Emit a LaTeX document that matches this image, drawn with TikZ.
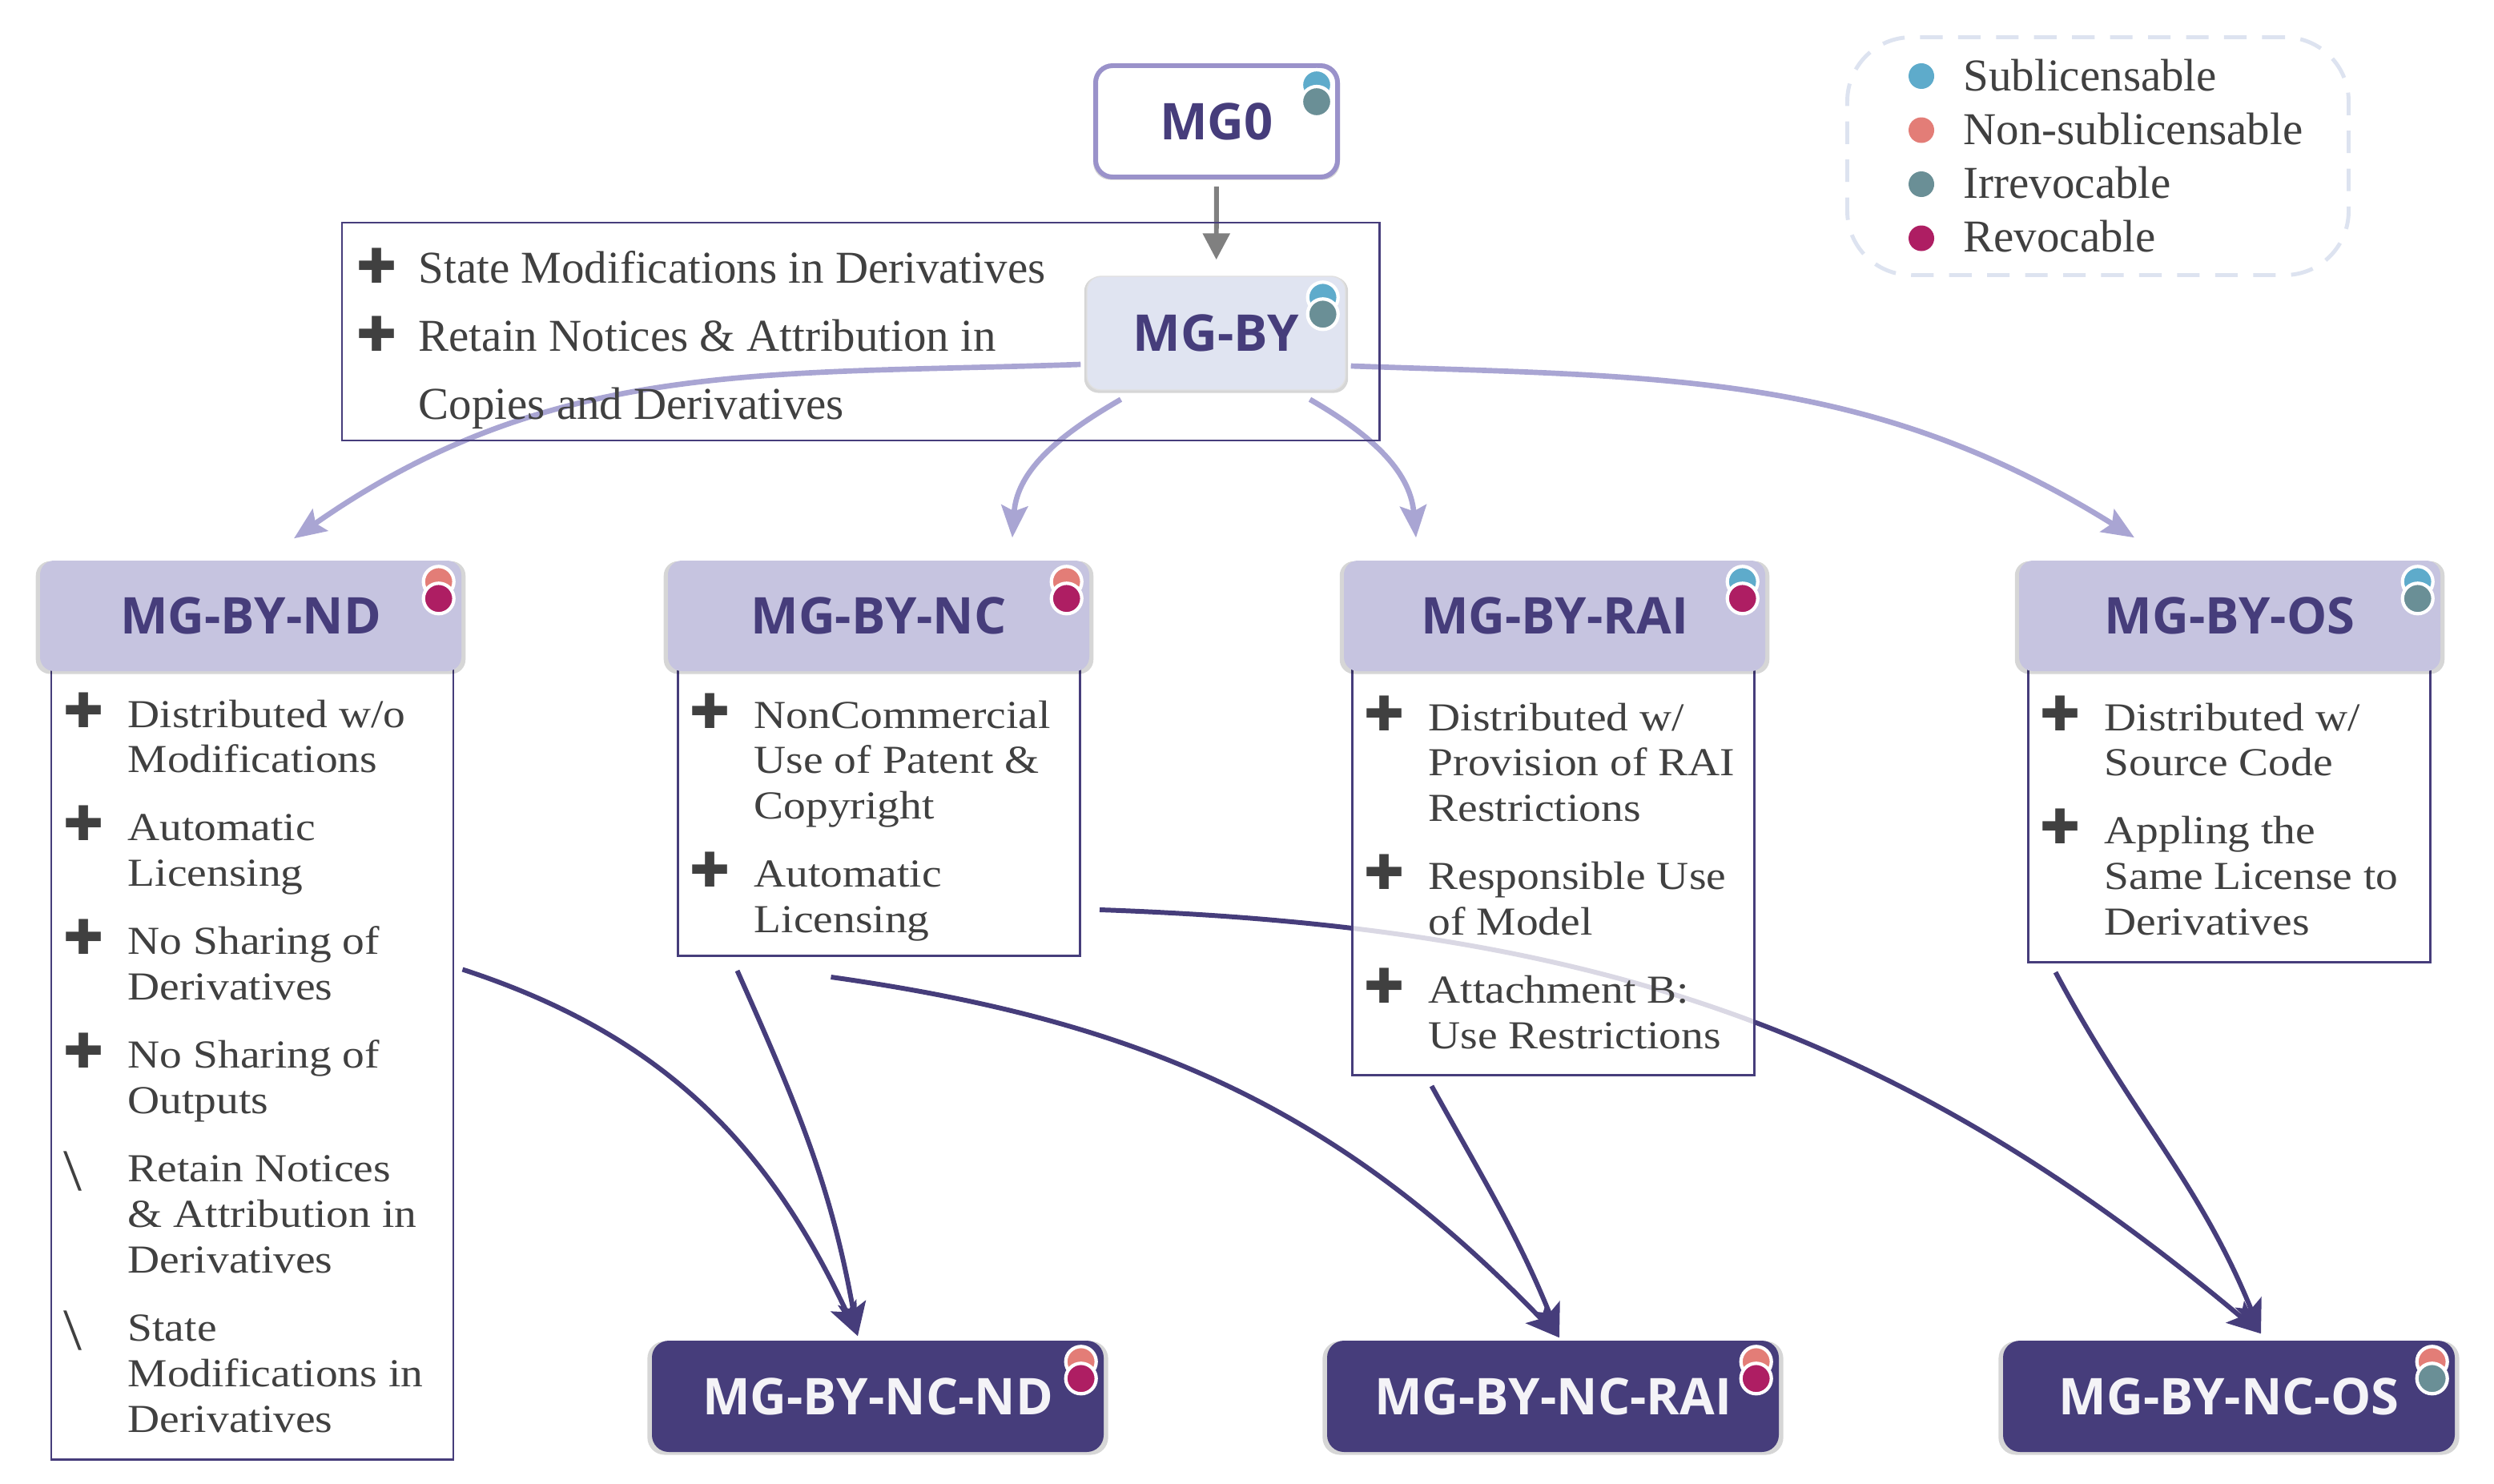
\documentclass[tikz,border=0pt]{standalone}
\usepackage{fontspec}
\setmainfont{Liberation Serif}
\newfontfamily\headfont{Open Sans}
\newfontfamily\itemfont[FakeStretch=1.12]{Liberation Serif}
\newfontfamily\symfont{DejaVu Sans}
\usepackage{xcolor}
\usepackage{tikz}
\usetikzlibrary{arrows.meta, positioning, shadows, backgrounds}

\definecolor{mgpurple}{HTML}{463D7B}
\definecolor{headfill}{HTML}{C6C4E0}
\definecolor{byfill}{HTML}{E0E4F1}
\definecolor{lavline}{HTML}{A9A5D3}
\definecolor{mgborder}{HTML}{9A92CA}
\definecolor{txtgray}{HTML}{404040}
\definecolor{arrgray}{HTML}{808080}
\definecolor{legdash}{HTML}{DDE3F0}
\definecolor{dotblue}{HTML}{5EABCB}
\definecolor{dotsalmon}{HTML}{E37D77}
\definecolor{dotteal}{HTML}{6A8F96}
\definecolor{dotcrimson}{HTML}{AE1E63}

\newcommand{\plusbul}[1][0.8cm]{\makebox[#1][l]{\smash{\symfont\fontsize{17}{17}\selectfont ✚}}}
\newcommand{\slashbul}{\makebox[0.8cm][l]{\smash{\fontsize{21}{21}\selectfont\raisebox{-3pt}{\textbackslash}}}}

\tikzset{
  shade/.style={general shadow={fill=black, opacity=0.16, shadow scale=1.02, shadow yshift=-0.6pt}},
  head/.style={rounded corners=5pt, fill=headfill, minimum width=5.26cm, minimum height=1.38cm, font=\headfont\bfseries\fontsize{18}{20}\selectfont, text=mgpurple, shade},
  leaf/.style={rounded corners=6pt, fill=mgpurple, minimum width=5.64cm, minimum height=1.39cm, font=\headfont\bfseries\fontsize{18}{20}\selectfont, text=white!94!mgpurple, shade},
  mgzero/.style={draw=mgborder, line width=1.7pt, fill=white, rounded corners=6pt, minimum width=3.02cm, minimum height=1.39cm, font=\headfont\bfseries\fontsize{18}{20}\selectfont, text=mgpurple, shade},
  mgby/.style={draw=black!12, fill=byfill, rounded corners=5pt, minimum width=3.23cm, minimum height=1.42cm, font=\headfont\bfseries\fontsize{18}{20}\selectfont, text=mgpurple, shade},
  body/.style={draw=mgpurple, line width=0.85pt, fill=white, fill opacity=0.8, minimum width=5.02cm, anchor=north},
  notebox/.style={draw=mgpurple, line width=0.85pt, minimum width=12.95cm, minimum height=2.72cm},
  itemtxt/.style={anchor=base west, inner sep=0, text=txtgray, font=\itemfont\fontsize{14.1}{16.2}\selectfont},
  notetxt/.style={anchor=base west, inner sep=0, text=txtgray, font=\fontsize{16.2}{24.2}\selectfont},
  dot/.style={circle, draw=white, line width=1.2pt, minimum size=0.38cm, inner sep=0},
  legdot/.style={circle, minimum size=0.32cm, inner sep=0},
  legbox/.style={draw=legdash, line width=1.4pt, dash pattern=on 8pt off 5.5pt, rounded corners=0.8cm, minimum width=6.26cm, minimum height=2.97cm},
  legtxt/.style={anchor=base west, inner sep=0, text=txtgray, font=\fontsize{16.2}{19}\selectfont},
  grayarr/.style={-{Triangle[length=3.3mm, width=3.3mm]}, line width=1.7pt, draw=arrgray},
  lavarr/.style={-{Stealth[length=4mm, width=3.3mm, inset=0.7mm]}, line width=1.9pt, draw=lavline},
  darr/.style={-{Stealth[length=4.2mm, width=3.5mm, inset=0.9mm]}, line width=1.7pt, draw=mgpurple}
}

\begin{document}
\begin{tikzpicture}[x=1cm, y=1cm]
    \useasboundingbox (0,0) rectangle (31.14,-18.53);

    \node[legbox] (legend) at (26.195,-1.95) {};
    \foreach \c/\t [count=\i from 0] in {dotblue/Sublicensable, dotsalmon/Non-sublicensable, dotteal/Irrevocable, dotcrimson/Revocable}{
      \node[legdot, fill=\c] (legdot-\i) at (23.99,{-0.95-0.675*\i}) {};
      \node[legtxt] (leg-\i) at (24.51,{-1.13-0.673*\i}) {\t};
    }

    \node[notebox] (note) at (10.745,-4.14) {};
    \node[notetxt] (notelist) at (4.45,-3.53) {\begin{tabular}[t]{@{}l@{}l@{}}
      \plusbul[0.77cm] & State Modifications in Derivatives\\
      \plusbul[0.77cm] & Retain Notices \& Attribution in\\
      & Copies and Derivatives
    \end{tabular}};

    \node[mgzero] (mg0) at (15.19,-1.515) {MG0};
    \node[mgby] (mgby) at (15.185,-4.16) {MG-BY};

    \node[body, minimum height=10.52cm] (ndbody) at (3.15,-7.69) {};
    \node[body, minimum height=4.23cm] (ncbody) at (10.975,-7.69) {};
    \node[body, minimum height=5.72cm] (raibody) at (19.395,-7.69) {};
    \node[body, minimum height=4.31cm] (osbody) at (27.835,-7.69) {};

    \node[head] (nd) at (3.13,-7.69) {MG-BY-ND};
    \node[head] (nc) at (10.97,-7.69) {MG-BY-NC};
    \node[head] (rai) at (19.41,-7.69) {MG-BY-RAI};
    \node[head] (os) at (27.84,-7.69) {MG-BY-OS};

    \node[itemtxt] (ndlist) at (0.79,-9.08) {\begin{tabular}[t]{@{}l@{}l@{}}
      \plusbul & Distributed w/o\\ & Modifications\\[8pt]
      \plusbul & Automatic\\ & Licensing\\[8pt]
      \plusbul & No Sharing of\\ & Derivatives\\[8pt]
      \plusbul & No Sharing of\\ & Outputs\\[8pt]
      \slashbul & Retain Notices\\ & \& Attribution in\\ & Derivatives\\[8pt]
      \slashbul & State\\ & Modifications in\\ & Derivatives
    \end{tabular}};
    \node[itemtxt] (nclist) at (8.61,-9.09) {\begin{tabular}[t]{@{}l@{}l@{}}
      \plusbul & NonCommercial\\ & Use of Patent \&\\ & Copyright\\[8pt]
      \plusbul & Automatic\\ & Licensing
    \end{tabular}};
    \node[itemtxt] (railist) at (17.03,-9.12) {\begin{tabular}[t]{@{}l@{}l@{}}
      \plusbul & Distributed w/\\ & Provision of RAI\\ & Restrictions\\[8pt]
      \plusbul & Responsible Use\\ & of Model\\[8pt]
      \plusbul & Attachment B:\\ & Use Restrictions
    \end{tabular}};
    \node[itemtxt] (oslist) at (25.47,-9.12) {\begin{tabular}[t]{@{}l@{}l@{}}
      \plusbul & Distributed w/\\ & Source Code\\[8pt]
      \plusbul & Appling the\\ & Same License to\\ & Derivatives
    \end{tabular}};

    \node[leaf] (ncnd) at (10.96,-17.435) {MG-BY-NC-ND};
    \node[leaf] (ncrai) at (19.39,-17.435) {MG-BY-NC-RAI};
    \node[leaf] (ncos) at (27.83,-17.435) {MG-BY-NC-OS};

    \foreach \n/\ca/\cb in {mg0/dotblue/dotteal, mgby/dotblue/dotteal, nd/dotsalmon/dotcrimson, nc/dotsalmon/dotcrimson, rai/dotblue/dotcrimson, os/dotblue/dotteal, ncnd/dotsalmon/dotcrimson, ncrai/dotsalmon/dotcrimson, ncos/dotsalmon/dotteal}{
      \node[dot, fill=\ca] (\n-up) at ([xshift=-0.29cm, yshift=-0.27cm]\n.north east) {};
      \node[dot, fill=\cb] (\n-lo) at ([xshift=-0.29cm, yshift=-0.48cm]\n.north east) {};
    }

    \begin{scope}[on background layer]
      \fill[white] (0,0) rectangle (31.14,-18.53);
      \draw[grayarr, shorten <=0.09cm, shorten >=0.2cm] (mg0) -- (mgby);
      \draw[lavarr] ([xshift=-0.07cm, yshift=-0.39cm]mgby.west) to[out=182, in=35] ([xshift=0.54cm, yshift=0.27cm]nd.north);
      \draw[lavarr] ([xshift=-1.19cm, yshift=-0.11cm]mgby.south) to[out=210, in=86] ([xshift=1.67cm, yshift=0.28cm]nc.north);
      \draw[lavarr] ([xshift=1.17cm, yshift=-0.11cm]mgby.south) to[out=-30, in=95] ([xshift=-1.73cm, yshift=0.28cm]rai.north);
      \draw[lavarr] ([xshift=0.06cm, yshift=-0.41cm]mgby.east) to[out=-2, in=148] ([xshift=-1.19cm, yshift=0.28cm]os.north);
      \draw[darr] ([xshift=0.1cm, yshift=0.86cm]ndbody.east) to[out=-18, in=115] ([xshift=-0.25cm, yshift=0.05cm]ncnd.north);
      \draw[darr] ([xshift=-1.77cm, yshift=-0.17cm]ncbody.south) to[out=-66, in=100] ([xshift=-0.25cm, yshift=0.05cm]ncnd.north);
      \draw[darr] ([xshift=-0.6cm, yshift=-0.25cm]ncbody.south) to[out=-8, in=134] ([xshift=0.08cm, yshift=0.03cm]ncrai.north);
      \draw[darr] ([xshift=-1.52cm, yshift=-0.12cm]raibody.south) to[out=-61, in=112] ([xshift=0.08cm, yshift=0.03cm]ncrai.north);
      \draw[darr] ([xshift=0.23cm, yshift=0.59cm]ncbody.south east) to[out=-2, in=140] ([xshift=0.4cm, yshift=0.08cm]ncos.north);
      \draw[darr] ([xshift=-2.17cm, yshift=-0.11cm]osbody.south) to[out=-62, in=112] ([xshift=0.4cm, yshift=0.08cm]ncos.north);
    \end{scope}
\end{tikzpicture}
\end{document}
